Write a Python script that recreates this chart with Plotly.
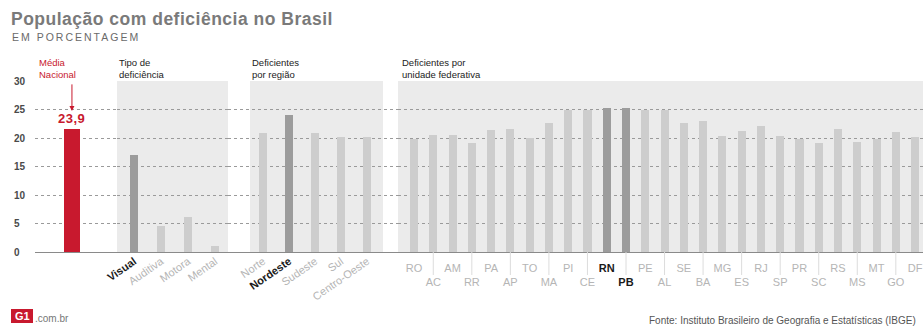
import plotly.graph_objects as go

# ---------------- data ----------------
media_label = ["Média Nacional"]
media_value = [21.6]
media_text = "23,9"

tipo_labels = ["Visual", "Auditiva", "Motora", "Mental"]
tipo_values = [17.0, 4.5, 6.2, 1.1]
tipo_highlight = ["Visual"]

regiao_labels = ["Norte", "Nordeste", "Sudeste", "Sul", "Centro-Oeste"]
regiao_values = [20.8, 24.1, 20.8, 20.2, 20.2]
regiao_highlight = ["Nordeste"]

uf_labels = ["RO", "AC", "AM", "RR", "PA", "AP", "TO", "MA", "PI", "CE", "RN", "PB", "PE",
             "AL", "SE", "BA", "MG", "ES", "RJ", "SP", "PR", "SC", "RS", "MS", "MT", "GO", "DF"]
uf_values = [19.9, 20.5, 20.5, 19.2, 21.4, 21.5, 20.0, 22.7, 25.0, 25.0, 25.2, 25.2, 25.0,
             25.0, 22.7, 23.0, 20.4, 21.2, 22.1, 20.4, 19.9, 19.2, 21.5, 19.3, 19.9, 21.0, 20.1]
uf_highlight = ["RN", "PB"]

y_ticks = [0, 5, 10, 15, 20, 25, 30]

# ---------------- style ----------------
W, H = 923, 327
TOP, BOTTOM = 81, 252
FONT = "Liberation Sans, Arial, sans-serif"
RED = "#c8192e"
DARK = "#9c9c9c"
LIGHT = "#cdcdcd"
SHADE = "#ebebeb"
LBL = "#b5b5b5"


def px(x):
    return x / W


def py(y):
    return (BOTTOM - y) / (BOTTOM - TOP)


def colors(labels, hl):
    return [DARK if l in hl else LIGHT for l in labels]


def fmt(labels, hl):
    return [f"<b><span style='color:#1a1a1a'>{l}</span></b>" if l in hl else l for l in labels]


fig = go.Figure()
fig.add_trace(go.Bar(x=media_label, y=media_value, marker_color=RED, width=0.56,
                     xaxis="x", yaxis="y", marker_line_width=0))
fig.add_trace(go.Bar(x=tipo_labels, y=tipo_values, marker_color=colors(tipo_labels, tipo_highlight),
                     width=0.3, xaxis="x2", yaxis="y", marker_line_width=0))
fig.add_trace(go.Bar(x=regiao_labels, y=regiao_values, marker_color=colors(regiao_labels, regiao_highlight),
                     width=0.31, xaxis="x3", yaxis="y", marker_line_width=0))
fig.add_trace(go.Bar(x=uf_labels, y=uf_values, marker_color=colors(uf_labels, uf_highlight),
                     width=0.42, xaxis="x4", yaxis="y", marker_line_width=0))

common_x = dict(type="category", showgrid=False, zeroline=False, showline=False, ticks="",
                fixedrange=True, automargin=False,
                tickfont=dict(family=FONT, size=11, color=LBL))

uf_text = []
for i, l in enumerate(fmt(uf_labels, uf_highlight)):
    uf_text.append(l if i % 2 == 0 else "<br>" + l)

fig.update_layout(
    template="none",
    width=W, height=H,
    margin=dict(l=0, r=0, t=TOP, b=H - BOTTOM, pad=0, autoexpand=False),
    paper_bgcolor="white", plot_bgcolor="rgba(0,0,0,0)",
    showlegend=False, bargap=0,
    font=dict(family=FONT),
    xaxis=dict(common_x, domain=[px(35), px(117)], range=[-1.23, 1.5], showticklabels=False),
    xaxis2=dict(common_x, domain=[px(117), px(228)], range=[-0.63, 3.48], anchor="y",
                tickvals=tipo_labels, ticktext=fmt(tipo_labels, tipo_highlight), tickangle=-35),
    xaxis3=dict(common_x, domain=[px(228), px(398)], range=[-1.346, 5.19], anchor="y",
                tickvals=regiao_labels, ticktext=fmt(regiao_labels, regiao_highlight), tickangle=-35),
    xaxis4=dict(common_x, domain=[px(398), 1], range=[-0.83, 26.41], anchor="y",
                tickvals=uf_labels, ticktext=uf_text, tickangle=0, ticklabelstandoff=8),
    yaxis=dict(range=[0, 30], tickvals=y_ticks, ticktext=[f"<b>{v}</b>" for v in y_ticks],
               anchor="free", position=0, automargin=False,
               ticklabelposition="inside", ticklabeloverflow="allow", ticklabelstandoff=10,
               showgrid=True, griddash="dot", gridcolor="#9a9a9a", gridwidth=1,
               zeroline=True, zerolinecolor="#8a8a8a", zerolinewidth=1.2,
               showline=False, ticks="", fixedrange=True,
               tickfont=dict(family=FONT, size=10, color="#4a4a4a")),
)

# shaded panels
fig.add_shape(type="rect", xref="x2 domain", x0=0, x1=1, yref="y", y0=0, y1=30,
              fillcolor=SHADE, line_width=0, layer="below")
fig.add_shape(type="rect", xref="x3 domain", x0=22 / 170, x1=155 / 170, yref="y", y0=0, y1=30,
              fillcolor=SHADE, line_width=0, layer="below")
fig.add_shape(type="rect", xref="x4 domain", x0=0, x1=1, yref="y", y0=0, y1=30,
              fillcolor=SHADE, line_width=0, layer="below")

# leader lines for lower row of UF labels
for i, l in enumerate(uf_labels):
    if i % 2 == 1:
        fig.add_shape(type="line", xref="x4", x0=l, x1=l, yref="paper", y0=0, y1=py(275),
                      line=dict(color="#dcdcdc", width=1))

TITLE_STYLE = "letter-spacing:0.5px"
SUB_STYLE = "letter-spacing:2px"

annotations = [
    dict(text=f"<b><span style='{TITLE_STYLE}'>População com deficiência no Brasil</span></b>",
         x=px(9), y=py(19), xanchor="left", yanchor="middle", font=dict(size=17.5, color="#7a7a7a")),
    dict(text=f"<span style='{SUB_STYLE}'>EM PORCENTAGEM</span>", x=px(10), y=py(37),
         xanchor="left", yanchor="middle", font=dict(size=10.5, color="#6a6a6a")),
    dict(text=".com.br", x=px(33), y=py(318), xanchor="left", yanchor="middle",
         font=dict(size=10, color="#777")),
    dict(text="<b>G1</b>", x=px(22), y=py(316), xanchor="center", yanchor="middle",
         font=dict(size=11, color="white")),
    dict(text="Fonte: Instituto Brasileiro de Geografia e Estatísticas (IBGE)", x=px(918),
         y=py(320), xanchor="right", yanchor="middle", font=dict(size=10, color="#555")),
]

# section headers
headers = [
    (37, "Média<br>Nacional", RED),
    (117, "Tipo de<br>deficiência", "#222"),
    (250, "Deficientes<br>por região", "#222"),
    (400, "Deficientes por<br>unidade federativa", "#222"),
]
for x0, t, col in headers:
    annotations.append(dict(text=t, x=px(x0), y=py(68.5), xanchor="left",
                            yanchor="middle", font=dict(size=9.5, color=col)))

for a in annotations:
    a.update(xref="paper", yref="paper", showarrow=False, align="left")
    fig.add_annotation(**a)

fig.add_shape(type="rect", xref="paper", yref="paper", x0=px(11), x1=px(33), y0=py(309), y1=py(323),
              fillcolor=RED, line_width=0, layer="below")

# value label and arrow for national average
fig.add_annotation(xref="x", yref="y", x=media_label[0], y=media_value[0],
                   text=f"<b><span style='letter-spacing:0.5px'>{media_text}</span></b>",
                   showarrow=False, yanchor="bottom", yshift=1, font=dict(size=13, color=RED))
fig.add_annotation(xref="x", yref="y", x=media_label[0], y=media_value[0], text="",
                   showarrow=True, ax=0, ay=-28, yshift=18, arrowcolor=RED, arrowwidth=1,
                   arrowhead=2, arrowsize=1)

fig.write_html("out.html")
